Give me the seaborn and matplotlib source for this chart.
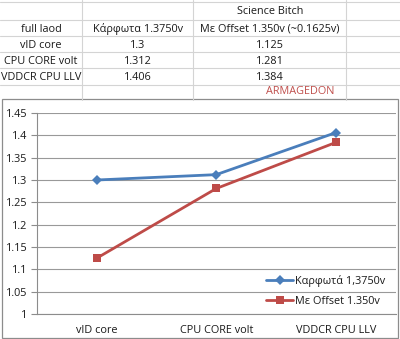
import numpy as np
import pandas as pd
import matplotlib
matplotlib.use("Agg")
import matplotlib.pyplot as plt
import seaborn as sns
from matplotlib.lines import Line2D
from matplotlib.patches import Rectangle

categories = ["vID core", "CPU CORE volt", "VDDCR CPU LLV"]
fixed_vals = [1.3, 1.312, 1.406]
offset_vals = [1.125, 1.281, 1.384]
table_fixed_text = ["1.3", "1.312", "1.406"]
table_offset_text = ["1.125", "1.281", "1.384"]
legend_labels = ["Καρφωτά 1,3750v", "Με Offset 1.350v"]
yticks = [1.0, 1.05, 1.1, 1.15, 1.2, 1.25, 1.3, 1.35, 1.4, 1.45]
ytick_labels = ["1", "1.05", "1.1", "1.15", "1.2", "1.25", "1.3", "1.35", "1.4", "1.45"]

sns.set_style("white")
plt.rcParams['font.family'] = ['Open Sans', 'DejaVu Sans']

W, H = 400, 339
fig = plt.figure(figsize=(W / 100, H / 100), dpi=100)
fig.patch.set_facecolor("white")

def fx(x):
    return x / W

def fy(y):
    return 1 - y / H

grid_c = "#d4d4d4"
# spreadsheet grid
for y in [2, 20, 36, 52, 68, 85]:
    fig.add_artist(Line2D([0, 1], [fy(y), fy(y)], color=grid_c, lw=0.8))
for x in [82, 193, 346]:
    fig.add_artist(Line2D([fx(x), fx(x)], [fy(0), fy(100)], color=grid_c, lw=0.8))

fs = 7.8
tc = "#1a1a1a"
fig.text(fx(270), fy(12), "Science Bitch", ha="center", va="center", fontsize=fs, color=tc)
fig.text(fx(41), fy(29), "full laod", ha="center", va="center", fontsize=fs, color=tc)
fig.text(fx(138), fy(29), "Κάρφωτα 1.3750v", ha="center", va="center", fontsize=fs, color=tc)
fig.text(fx(270), fy(29), "Με Offset 1.350v (~0.1625v)", ha="center", va="center", fontsize=fs, color=tc)
row_y = [45, 61.5, 78]
for i, cat in enumerate(categories):
    fig.text(fx(41), fy(row_y[i]), cat, ha="center", va="center", fontsize=fs, color=tc)
    fig.text(fx(138), fy(row_y[i]), table_fixed_text[i], ha="center", va="center", fontsize=fs, color=tc)
    fig.text(fx(270), fy(row_y[i]), table_offset_text[i], ha="center", va="center", fontsize=fs, color=tc)
fig.text(fx(300), fy(91.5), "ARMAGEDON", ha="center", va="center", fontsize=fs, color="#c0504d")

# chart area
fig.add_artist(Rectangle((fx(2), fy(338)), fx(396), (338 - 99) / H,
                         transform=fig.transFigure, facecolor="white",
                         edgecolor="#8c8c8c", lw=0.9, zorder=-1))

ax = fig.add_axes([fx(37), fy(314), fx(395.5) - fx(37), (314 - 113) / H])
ax.set_facecolor("white")
ax.set_zorder(1)

df = pd.DataFrame({
    "cat": categories * 2,
    "val": fixed_vals + offset_vals,
    "series": [legend_labels[0]] * 3 + [legend_labels[1]] * 3,
})
sns.lineplot(data=df, x="cat", y="val", hue="series", style="series",
             markers={legend_labels[0]: "D", legend_labels[1]: "s"},
             dashes=False, palette=["#4a7ebb", "#be4b48"], lw=2,
             markersize=5.5, markeredgewidth=0, ax=ax, sort=False)

ax.set_xlim(-0.5, 2.5)
ax.set_ylim(1.0, 1.45)
ax.set_yticks(yticks)
ax.set_yticklabels(ytick_labels, fontsize=fs, color=tc)
ax.set_xticks(range(3))
ax.set_xticklabels(categories, fontsize=fs, color=tc)
ax.tick_params(axis="x", length=0, pad=8)
ax.set_xticks([-0.5, 0.5, 1.5, 2.5], minor=True)
ax.tick_params(axis="x", which="minor", length=4, color="#8c8c8c", width=0.8)
ax.tick_params(axis="y", length=4, color="#8c8c8c", width=0.8, pad=3, left=True)
ax.grid(axis="y", color="#999999", lw=0.8)
ax.set_axisbelow(True)
for s in ["top", "right"]:
    ax.spines[s].set_visible(False)
for s in ["left", "bottom"]:
    ax.spines[s].set_color("#8c8c8c")
    ax.spines[s].set_linewidth(0.8)
ax.set_xlabel("")
ax.set_ylabel("")

leg = ax.legend(loc="lower right", bbox_to_anchor=(1 - 6 / 358.5, 0.015), frameon=False,
                fontsize=fs, handlelength=2.5, handletextpad=0.15, labelspacing=0.8,
                borderaxespad=0.0)
for t in leg.get_texts():
    t.set_color(tc)

fig.savefig("out.png", dpi=100)
